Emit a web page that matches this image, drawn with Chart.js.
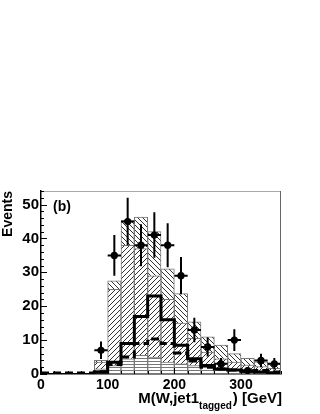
<!DOCTYPE html>
<html>
<head>
<meta charset="utf-8">
<script src="https://cdn.jsdelivr.net/npm/chart.js@4"></script>
<style>
  html, body { margin: 0; padding: 0; background: #fff; }
  canvas { display: block; }
</style>
</head>
<body>
<canvas id="myChart" width="320" height="414"></canvas>
<script>
// bins of 20 GeV, centres
const binCenters = [90, 110, 130, 150, 170, 190, 210, 230, 250, 270, 290, 310, 330, 350];
// stacked backgrounds (bottom to top)
const bkgHoriz = [1.5, 2.5, 4.5, 5.5, 5.0, 3.5, 3.0, 2.5, 2.0, 1.5, 1.2, 1.0, 0.8, 0.6];
const bkgFwd   = [2.0, 22.5, 33.5, 31.5, 24.0, 18.5, 12.0, 8.0, 4.5, 3.0, 2.3, 1.6, 1.4, 1.1];
const bkgBack  = [0.5, 2.5, 7.3, 9.3, 13.0, 9.0, 8.7, 4.9, 4.5, 4.0, 2.5, 2.0, 1.4, 1.3];
// observed
const obsCounts = [7, 35, 45, 38, 41, 38, 29, 13, 8, 3, 10, 1, 4, 3];
const obsErrors = [2.6, 6.0, 7.0, 6.2, 6.7, 6.5, 5.5, 3.6, 2.8, 1.7, 3.2, 1.0, 2.0, 1.7];
// overlay curves
const solidCenters = binCenters;
const solidValues  = [0.5, 3.5, 9.0, 17.0, 23.0, 16.0, 8.5, 4.5, 2.5, 1.5, 1.2, 0.8, 0.6, 0.4];
const dashCenters  = [10, 30, 50, 70, 90, 110, 130, 150, 170, 190, 210, 230, 250, 270, 290, 310, 330, 350];
const dashValues   = [0.3, 0.3, 0.3, 0.3, 0.7, 2.8, 5.0, 9.0, 10.3, 9.0, 6.2, 3.8, 2.0, 1.5, 1.2, 0.8, 1.0, 0.6];
// axes
const xTicks = [0, 100, 200, 300];
const yTicks = [0, 10, 20, 30, 40, 50];

const FONT = 'Liberation Sans, Arial, sans-serif';

function hatch(kind) {
    const s = kind === 'h' ? 3 : 5;
    const c = document.createElement('canvas');
    c.width = s; c.height = s;
    const g = c.getContext('2d');
    g.fillStyle = '#fff';
    g.fillRect(0, 0, s, s);
    g.strokeStyle = kind === 'h' ? '#777' : '#333';
    g.lineWidth = 1;
    g.beginPath();
    if (kind === '/') {
        for (let o = -s; o <= s; o += s) { g.moveTo(o, s); g.lineTo(o + s, 0); }
    } else if (kind === '\\') {
        for (let o = -s; o <= s; o += s) { g.moveTo(o, 0); g.lineTo(o + s, s); }
    } else {
        g.moveTo(0, 1.5); g.lineTo(s, 1.5);
    }
    g.stroke();
    return g.createPattern(c, 'repeat');
}

function bars(vals) {
    return binCenters.map((c, i) => ({ x: c, y: vals[i] }));
}

function steps(centers, vals) {
    const pts = centers.map((c, i) => ({ x: c - 10, y: vals[i] }));
    pts.push({ x: centers[centers.length - 1] + 10, y: vals[vals.length - 1] });
    return pts;
}

const deco = {
    id: 'deco',
    afterDatasetsDraw(chart) {
        const ctx = chart.ctx;
        const xs = chart.scales.x, ys = chart.scales.y;
        const a = chart.chartArea;
        ctx.save();
        // error bars
        ctx.strokeStyle = '#000';
        ctx.lineWidth = 2;
        binCenters.forEach((c, i) => {
            const px = xs.getPixelForValue(c);
            const py = ys.getPixelForValue(obsCounts[i]);
            ctx.beginPath();
            ctx.moveTo(px, ys.getPixelForValue(obsCounts[i] + obsErrors[i]));
            ctx.lineTo(px, ys.getPixelForValue(Math.max(0, obsCounts[i] - obsErrors[i])));
            ctx.moveTo(xs.getPixelForValue(c - 10), py);
            ctx.lineTo(xs.getPixelForValue(c + 10), py);
            ctx.stroke();
        });
        // frame
        ctx.lineWidth = 1;
        ctx.strokeStyle = '#aaa';
        ctx.beginPath();
        ctx.moveTo(a.left, a.top + 0.5);
        ctx.lineTo(a.right, a.top + 0.5);
        ctx.stroke();
        ctx.strokeStyle = '#666';
        ctx.beginPath();
        ctx.moveTo(a.right - 0.5, a.top);
        ctx.lineTo(a.right - 0.5, a.bottom);
        ctx.stroke();
        // inward ticks
        ctx.strokeStyle = '#000';
        ctx.beginPath();
        for (let v = 0; v <= 54; v += 2) {
            const y = Math.round(ys.getPixelForValue(v)) + 0.5;
            const len = v % 10 === 0 ? 6 : 3;
            ctx.moveTo(a.left, y);
            ctx.lineTo(a.left + len, y);
        }
        for (let v = 0; v <= 360; v += 20) {
            const x = Math.round(xs.getPixelForValue(v)) + 0.5;
            const len = v % 100 === 0 ? 6 : 3;
            ctx.moveTo(x, a.bottom);
            ctx.lineTo(x, a.bottom - len);
        }
        ctx.stroke();
        // panel label
        ctx.fillStyle = '#000';
        ctx.font = 'bold 14px ' + FONT;
        ctx.textBaseline = 'alphabetic';
        ctx.textAlign = 'left';
        ctx.fillText('(b)', a.left + 12, a.top + 20);
        // x title with subscript
        const main1 = 'M(W,jet1', sub = 'tagged', main2 = ') [GeV]';
        ctx.font = 'bold 15px ' + FONT;
        const w1 = ctx.measureText(main1).width;
        const w3 = ctx.measureText(main2).width;
        ctx.font = 'bold 10px ' + FONT;
        const w2 = ctx.measureText(sub).width;
        let x0 = a.right + 1 - (w1 + w2 + w3 + 1);
        const base = 403;
        ctx.font = 'bold 15px ' + FONT;
        ctx.fillText(main1, x0, base);
        ctx.font = 'bold 10px ' + FONT;
        ctx.fillText(sub, x0 + w1, base + 6);
        ctx.font = 'bold 15px ' + FONT;
        ctx.fillText(main2, x0 + w1 + w2 + 1, base);
        ctx.restore();
    }
};

window.onload = () => {
    const ctx = document.getElementById('myChart');
    const barStyle = { type: 'bar', stack: 'mc', borderColor: '#777', borderWidth: 1, order: 3,
                       categoryPercentage: 1.0, barPercentage: 1.0 };
    window.chart = new Chart(ctx, {
        type: 'bar',
        data: {
            datasets: [
                Object.assign({ label: 'horiz', data: bars(bkgHoriz), backgroundColor: hatch('h') }, barStyle),
                Object.assign({ label: 'fwd', data: bars(bkgFwd), backgroundColor: hatch('/') }, barStyle),
                Object.assign({ label: 'back', data: bars(bkgBack), backgroundColor: hatch('\\') }, barStyle),
                {
                    type: 'line', label: 'dashed', stack: 'dashed', order: 2,
                    data: steps(dashCenters, dashValues),
                    stepped: 'before', borderColor: '#000', borderWidth: 3, borderDash: [8, 4],
                    pointRadius: 0, fill: false
                },
                {
                    type: 'line', label: 'solid', stack: 'solid', order: 1,
                    data: steps(solidCenters, solidValues),
                    stepped: 'before', borderColor: '#000', borderWidth: 3,
                    pointRadius: 0, fill: false
                },
                {
                    type: 'line', label: 'data', stack: 'data', order: 0,
                    data: bars(obsCounts), showLine: false,
                    pointRadius: 3.6, pointBackgroundColor: '#000', pointBorderColor: '#000', pointBorderWidth: 0
                }
            ]
        },
        options: {
            responsive: false,
            animation: false,
            layout: { padding: { top: 191, right: 39, left: 0, bottom: 0 } },
            plugins: { legend: { display: false }, tooltip: { enabled: false } },
            scales: {
                x: {
                    type: 'linear', min: 0, max: 360, offset: false,
                    grid: { display: false, drawTicks: false, offset: false },
                    border: { color: '#000', width: 1.5 },
                    afterBuildTicks: (s) => { s.ticks = xTicks.map(v => ({ value: v })); },
                    afterFit: (s) => { s.height = 40; },
                    ticks: { padding: 3, color: '#000', font: { family: FONT, size: 14, weight: 'bold' }, maxRotation: 0 }
                },
                y: {
                    stacked: true, min: 0, max: 54,
                    grid: { display: false, drawTicks: false },
                    border: { color: '#000', width: 1.5 },
                    afterBuildTicks: (s) => { s.ticks = yTicks.map(v => ({ value: v })); },
                    afterFit: (s) => { s.width = 41; },
                    ticks: { padding: 2, color: '#000', font: { family: FONT, size: 15, weight: 'bold' } },
                    title: { display: true, text: 'Events', align: 'end', color: '#000', padding: 0,
                             font: { family: FONT, size: 14, weight: 'bold' } }
                }
            }
        },
        plugins: [deco]
    });
};
</script>
</body>
</html>
